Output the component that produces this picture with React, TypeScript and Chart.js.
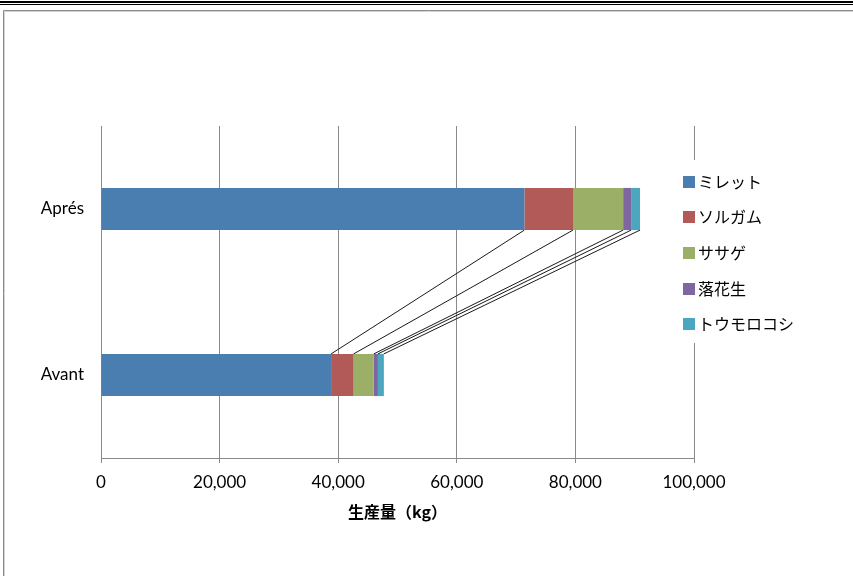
import React, { useEffect, useRef } from "react";
import { Chart, registerables } from "chart.js";

Chart.register(...registerables);

const categories = ["Aprés", "Avant"];
const seriesNames = ["ミレット", "ソルガム", "ササゲ", "落花生", "トウモロコシ"];
const millet = [71400, 38800];
const sorghum = [8200, 3800];
const cowpea = [8450, 3400];
const groundnut = [1350, 700];
const maize = [1500, 1000];
const seriesValues = [millet, sorghum, cowpea, groundnut, maize];
const seriesColors = ["#4A7EB1", "#B25A57", "#9BAF66", "#7E66A0", "#4BA7BF"];
const xMin = 0;
const xMax = 100000;
const xStep = 20000;
const xTitle = "生産量（kg）";

const W = 853;
const H = 576;

const framePlugin = {
  id: "frame",
  beforeDraw(chart: any) {
    const ctx = chart.ctx;
    ctx.save();
    ctx.fillStyle = "#ffffff";
    ctx.fillRect(0, 0, W, H);
    ctx.fillStyle = "#000000";
    ctx.fillRect(0, 1, W, 2);
    ctx.fillRect(0, 4, W, 1);
    ctx.strokeStyle = "#8a8a8a";
    ctx.lineWidth = 1;
    ctx.beginPath();
    ctx.moveTo(3.5, H + 5);
    ctx.lineTo(3.5, 10.5);
    ctx.lineTo(W + 5, 10.5);
    ctx.stroke();
    ctx.strokeStyle = "#d4d4d4";
    ctx.beginPath();
    ctx.moveTo(4.5, H + 5);
    ctx.lineTo(4.5, 11.5);
    ctx.lineTo(W + 5, 11.5);
    ctx.stroke();
    ctx.restore();
  },
};

const seriesLinesPlugin = {
  id: "seriesLines",
  afterDatasetsDraw(chart: any) {
    const ctx = chart.ctx;
    ctx.save();
    ctx.strokeStyle = "#1a1a1a";
    ctx.lineWidth = 1;
    chart.data.datasets.forEach((_d: any, i: number) => {
      const meta = chart.getDatasetMeta(i);
      const a = meta.data[0];
      const b = meta.data[1];
      if (!a || !b) return;
      const x0 = a.x;
      const y0 = a.y + a.height / 2;
      const x1 = b.x;
      const y1 = b.y - b.height / 2;
      ctx.beginPath();
      ctx.moveTo(x0, y0);
      ctx.lineTo(x1, y1);
      ctx.stroke();
    });
    ctx.restore();
  },
};

const legendPlugin = {
  id: "customLegend",
  afterDraw(chart: any) {
    const ctx = chart.ctx;
    ctx.save();
    ctx.fillStyle = "#ffffff";
    ctx.fillRect(676, 160, 150, 183);
    ctx.font = '16px "Noto Sans CJK JP"';
    ctx.textBaseline = "middle";
    ctx.textAlign = "left";
    chart.data.datasets.forEach((d: any, i: number) => {
      const cy = 181.5 + i * 35.7;
      ctx.fillStyle = d.backgroundColor;
      ctx.fillRect(683, Math.round(cy - 6), 12, 12);
      ctx.fillStyle = "#000000";
      ctx.fillText(d.label, 698, cy);
    });
    ctx.restore();
  },
};

export default function App() {
  const ref = useRef<HTMLCanvasElement | null>(null);

  useEffect(() => {
    if (!ref.current) return;
    const chart = new Chart(ref.current, {
      type: "bar",
      data: {
        labels: categories,
        datasets: seriesNames.map((name, i) => ({
          label: name,
          data: seriesValues[i],
          backgroundColor: seriesColors[i],
          borderWidth: 0,
          barPercentage: 0.254,
          categoryPercentage: 1,
        })),
      },
      options: {
        indexAxis: "y",
        animation: false,
        responsive: false,
        devicePixelRatio: 1,
        layout: { padding: { left: 0, top: 126, right: W - 694, bottom: 0 } },
        plugins: {
          legend: { display: false },
          tooltip: { enabled: false },
          title: { display: false },
        },
        scales: {
          x: {
            stacked: true,
            min: xMin,
            max: xMax,
            afterFit: (s: any) => {
              s.height = H - 458;
            },
            ticks: {
              stepSize: xStep,
              padding: 9,
              color: "#000000",
              font: { family: "Lato", size: 17 },
              maxRotation: 0,
              callback: (v: any) => Number(v).toLocaleString("en-US"),
            },
            grid: {
              color: "#8a8a8a",
              lineWidth: 1,
              drawTicks: true,
              tickLength: 5,
            },
            border: { display: true, color: "#8a8a8a", width: 1 },
            title: {
              display: true,
              text: xTitle,
              color: "#000000",
              font: { family: "Noto Sans CJK JP", size: 16, weight: "bold" },
              padding: { top: 0, bottom: 54 },
            },
          },
          y: {
            stacked: true,
            afterFit: (s: any) => {
              s.width = 101;
            },
            ticks: {
              padding: 17,
              color: "#000000",
              font: { family: "Lato", size: 17 },
            },
            grid: { display: false, drawTicks: false },
            border: { display: true, color: "#8a8a8a", width: 1 },
          },
        },
      },
      plugins: [framePlugin, seriesLinesPlugin, legendPlugin],
    } as any);
    return () => chart.destroy();
  }, []);

  return (
    <div style={{ position: "fixed", left: 0, top: 0, width: W, height: H, background: "#fff" }}>
      <canvas ref={ref} width={W} height={H} style={{ display: "block", width: W, height: H }} />
    </div>
  );
}
